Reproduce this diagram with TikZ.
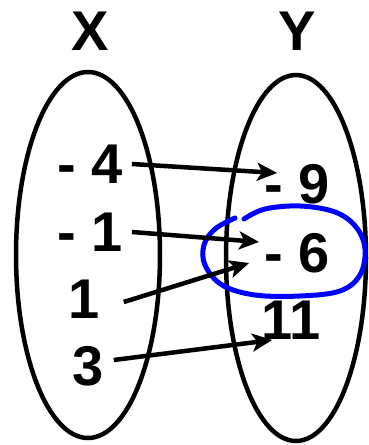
\documentclass[tikz,border=0pt]{standalone}
\usepackage{fontspec}
\setmainfont{Liberation Sans}
\usepackage{tikz}
\usetikzlibrary{arrows.meta}
\definecolor{loopBlue}{RGB}{0,0,255}

\begin{document}
\begin{tikzpicture}[
  x=1pt, y=1pt,
  setoval/.style={draw, line width=4.5pt},
  num/.style={inner sep=0pt, font=\fontsize{56}{60}\selectfont\bfseries},
  arr/.style={-{Stealth[length=20pt,width=18pt,inset=5pt]}, line width=4.5pt},
  ring/.style={draw=loopBlue, line width=5pt, line cap=round},
]
\useasboundingbox (0,0) rectangle (368,445);

\draw[setoval] (88,190) ellipse [x radius=72, y radius=183];
\draw[setoval] (296,187) ellipse [x radius=70, y radius=183];

\node[num] (setX) at (90,414) {X};
\node[num] (setY) at (297,414) {Y};

\node[num] (m4) at (90,281) {- 4};
\node[num] (m1) at (90,213) {- 1};
\node[num] (p1) at (84,146) {1};
\node[num] (p3) at (88,79) {3};

\node[num] (m9) at (297,261) {- 9};
\node[num] (m6) at (297,192) {- 6};
\node[num] (p11) at (291,125) {11};

\draw[ring] plot[smooth, tension=0.6] coordinates {
  (244,226) (265,236) (300,239) (335,233) (356,218) (365,196)
  (360,170) (340,154) (300,149) (255,150) (222,160) (205,180)
  (204,200) (215,216) (235,227)};

\draw[arr] ([xshift=9pt]m4.east) -- ([shift={(13pt,11pt)}]m9.west);
\draw[arr] ([xshift=9pt]m1.east) -- ([shift={(-5pt,11pt)}]m6.west);
\draw[arr] ([shift={(24pt,-3pt)}]p1.east) -- ([shift={(-15pt,-10pt)}]m6.west);
\draw[arr] ([shift={(10pt,6pt)}]p3.east) -- ([shift={(11pt,-20pt)}]p11.west);

\end{tikzpicture}
\end{document}
